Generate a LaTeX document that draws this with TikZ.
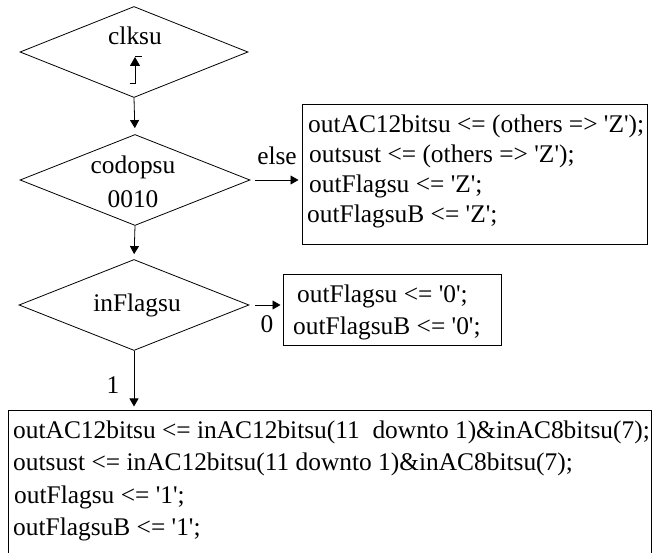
\documentclass[tikz,border=0pt]{standalone}
\usepackage{fontspec}
\setmainfont{Liberation Serif}
\usetikzlibrary{shapes.geometric,arrows.meta}
\newcommand\qt{\textquotesingle}
\begin{document}
\begin{tikzpicture}[x=1pt,y=-1pt,
  txt/.style={inner sep=0pt, font=\fontsize{25.4}{30}\selectfont},
  decision/.style={diamond, draw, line width=0.8pt, inner sep=0pt,
    minimum width=230pt, minimum height=91pt},
  stmtbox/.style={rectangle, draw, line width=1pt, inner sep=0pt},
  flow/.style={line width=0.8pt, -{Triangle[width=9pt,length=8pt]}},
]
\useasboundingbox (0,0) rectangle (659,553);

% decisions
\node[decision, minimum width=228pt] (d1) at (134,52) {};
\node[decision] (d2) at (135,180) {};
\node[decision] (d3) at (134,305) {};

\node[txt, anchor=base] (t1) at (135,45) {clksu};
\node[txt, anchor=base] (t2a) at (133,174) {codopsu};
\node[txt, anchor=base] (t2b) at (133,208) {0010};
\node[txt, anchor=base] (t3) at (137,312) {inFlagsu};

% rising-edge mark inside the clock test
\draw[line width=0.8pt] (130,83) -- (135,83) -- (135,60);
\draw[line width=0.8pt] (135,56) -- (142,56);
\coordinate (edgeA) at (135,66);
\coordinate (edgeB) at (135,57);
\draw[line width=0.8pt, -{Triangle[width=10pt,length=9pt]}] (edgeA) -- (edgeB);

% statement boxes
\node[stmtbox, minimum width=345pt, minimum height=140pt] (b1) at (474.5,175) {};
\node[stmtbox, minimum width=218pt, minimum height=71pt] (b2) at (392,310.5) {};
\node[stmtbox, minimum width=643pt, minimum height=150pt] (b3) at (329.5,485) {};

\node[txt, anchor=base west] (b1l1) at (308,133) {outAC12bitsu <= (others => \qt Z\qt);};
\node[txt, anchor=base west] (b1l2) at (309,163) {outsust <= (others => \qt Z\qt);};
\node[txt, anchor=base west] (b1l3) at (309,193) {outFlagsu <= \qt Z\qt;};
\node[txt, anchor=base west] (b1l4) at (307,223) {outFlagsuB <= \qt Z\qt;};

\node[txt, anchor=base west] (b2l1) at (297,303) {outFlagsu <= \qt 0\qt;};
\node[txt, anchor=base west] (b2l2) at (293,335) {outFlagsuB <= \qt 0\qt;};

\node[txt, anchor=base west] (b3l1) at (13,438) {outAC12bitsu <= inAC12bitsu(11~~downto 1)\&inAC8bitsu(7);};
\node[txt, anchor=base west] (b3l2) at (13,470) {outsust <= inAC12bitsu(11 downto 1)\&inAC8bitsu(7);};
\node[txt, anchor=base west] (b3l3) at (14,503) {outFlagsu <= \qt 1\qt;};
\node[txt, anchor=base west] (b3l4) at (13,535) {outFlagsuB <= \qt 1\qt;};

% connectors
\draw[flow, shorten >=6pt] (d1.south) -- (d2.north);
\draw[flow, shorten >=5pt] (d2.south) -- (d3.north);
\draw[flow, shorten <=5pt, shorten >=3pt] (d2.east) -- (d2.east -| b1.west);
\draw[flow, shorten <=6pt, shorten >=2pt] (d3.east) -- (d3.east -| b2.west);
\draw[flow, shorten >=3pt] (d3.south) -- (d3.south |- b3.north);

% branch labels
\node[txt, anchor=base] (lelse) at (277,165) {else};
\node[txt, anchor=base] (lzero) at (267,333) {0};
\node[txt, anchor=base] (lone) at (113,393) {1};
\end{tikzpicture}
\end{document}
